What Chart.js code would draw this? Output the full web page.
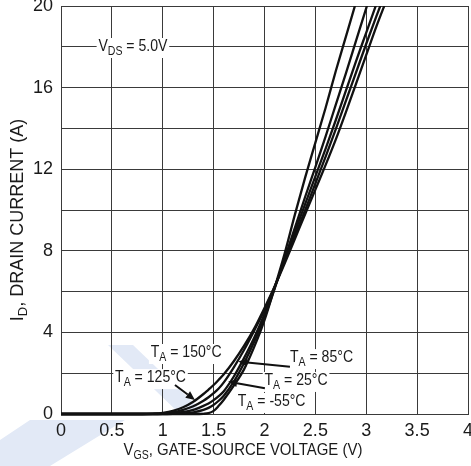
<!DOCTYPE html>
<html>
<head>
<meta charset="utf-8">
<script src="https://cdn.jsdelivr.net/npm/chart.js@4/dist/chart.umd.min.js"></script>
<style>
  body { margin: 0; background: #fff; }
  #wrap { width: 471px; height: 466px; position: relative; }
</style>
</head>
<body>
<div id="wrap"><canvas id="chart"></canvas></div>
<script>
// Transfer characteristics: I_D vs V_GS at V_DS = 5.0V, five ambient temps

const vgs = [0, 0.8, 0.9, 1.0, 1.1, 1.2, 1.3, 1.4, 1.45, 1.5, 1.55, 1.6, 1.7, 1.8, 1.9, 2.0,
             2.1, 2.2, 2.3, 2.4, 2.5, 2.6, 2.7, 2.8, 2.9, 3.0, 3.1, 3.2, 3.3];

const id150 = [0, 0, 0.02, 0.06, 0.15, 0.33, 0.6, 0.98, 1.2, 1.42, 1.68, 1.95, 2.6, 3.35, 4.2, 5.2,
               6.25, 7.4, 8.6, 9.8, 11.0, 12.2, 13.45, 14.8, 16.2, 17.6, 19.0, 20.3, 21.6];
const id125 = [0, 0, 0.01, 0.03, 0.08, 0.2, 0.38, 0.65, 0.82, 1.02, 1.25, 1.55, 2.3, 3.15, 4.1, 5.1,
               6.25, 7.5, 8.75, 10.0, 11.3, 12.6, 13.95, 15.35, 16.75, 18.15, 19.5, 20.8, 22.0];
const id85  = [0, 0, 0, 0.01, 0.04, 0.1, 0.2, 0.4, 0.52, 0.68, 0.88, 1.12, 1.85, 2.75, 3.75, 4.9,
               6.2, 7.6, 8.95, 10.3, 11.65, 13.0, 14.4, 15.85, 17.3, 18.7, 20.1, 21.5, 22.9];
const id25  = [0, 0, 0, 0, 0.01, 0.03, 0.08, 0.2, 0.3, 0.45, 0.65, 0.9, 1.6, 2.5, 3.55, 4.75,
               6.15, 7.65, 9.15, 10.65, 12.1, 13.6, 15.15, 16.7, 18.3, 19.9, 21.5, 23.0, 24.5];
const idm55 = [0, 0, 0, 0, 0, 0, 0, 0.01, 0.04, 0.15, 0.4, 0.7, 1.4, 2.2, 3.3, 4.6,
               6.2, 7.9, 9.8, 11.6, 13.3, 15.0, 16.8, 18.5, 20.2, 22.0, 23.8, 25.5, 27.0];

const seriesNames = ['150°C', '125°C', '85°C', '25°C', '-55°C'];
const seriesValues = [id150, id125, id85, id25, idm55];

const xTicks = [0, 0.5, 1, 1.5, 2, 2.5, 3, 3.5, 4];
const yTicks = [0, 4, 8, 12, 16, 20];

// annotation texts, anchored in data units
const notes = [
  { parts: [['V'], ['DS', 1], [' = 5.0V']], x: 0.707, y: 18.0 },
  { parts: [['T'], ['A', 1], [' = 150°C']], x: 1.23, y: 3.0 },
  { parts: [['T'], ['A', 1], [' = 125°C']], x: 0.88, y: 1.77 },
  { parts: [['T'], ['A', 1], [' = 85°C']], x: 2.56, y: 2.75 },
  { parts: [['T'], ['A', 1], [' = 25°C']], x: 2.31, y: 1.63 },
  { parts: [['T'], ['A', 1], [' = -55°C']], x: 2.07, y: 0.6 }
];
const arrows = [
  { from: [1.12, 1.42], to: [1.316, 0.69] },
  { from: [2.25, 2.32], to: [1.742, 2.57] },
  { from: [2.004, 1.26], to: [1.643, 1.59] }
];

const FONT = "'Liberation Sans', Arial, Helvetica, sans-serif";
const GRID = '#3a3a3a';
const SQUEEZE = 0.88;

function richText(ctx, parts, cx, cy, size, sx, bg) {
  ctx.save();
  ctx.translate(cx, cy);
  ctx.scale(sx, 1);
  ctx.textBaseline = 'middle';
  ctx.textAlign = 'left';
  let total = 0;
  const widths = parts.map(p => {
    ctx.font = (p[1] ? Math.round(size * 0.72) : size) + 'px ' + FONT;
    const w = ctx.measureText(p[0]).width;
    total += w;
    return w;
  });
  if (bg) {
    ctx.fillStyle = '#fff';
    ctx.fillRect(-total / 2 - 2, -size * 0.55, total + 4, size * 1.25);
  }
  ctx.fillStyle = '#1a1a1a';
  let x = -total / 2;
  parts.forEach((p, i) => {
    ctx.font = (p[1] ? Math.round(size * 0.72) : size) + 'px ' + FONT;
    ctx.fillText(p[0], x, p[1] ? size * 0.32 : 0);
    x += widths[i];
  });
  ctx.restore();
}

const watermark = {
  id: 'watermark',
  beforeDraw(chart) {
    const ctx = chart.ctx;
    ctx.save();
    ctx.fillStyle = '#e2e9f6';
    ctx.beginPath();
    ctx.moveTo(108, 345); ctx.lineTo(133, 345); ctx.lineTo(205, 414); ctx.lineTo(180, 414);
    ctx.closePath();
    ctx.fill();
    ctx.beginPath();
    ctx.moveTo(30, 420); ctx.lineTo(125, 420); ctx.lineTo(50, 466); ctx.lineTo(0, 466); ctx.lineTo(0, 440);
    ctx.closePath();
    ctx.fill();
    ctx.restore();
  }
};

const annotate = {
  id: 'annotate',
  beforeDatasetsDraw(chart) {
    const { ctx, scales: { x, y } } = chart;
    notes.forEach(n => {
      richText(ctx, n.parts, x.getPixelForValue(n.x), y.getPixelForValue(n.y), 16, SQUEEZE, true);
    });
    ctx.save();
    ctx.strokeStyle = '#111';
    ctx.fillStyle = '#111';
    ctx.lineWidth = 2;
    arrows.forEach(a => {
      const x0 = x.getPixelForValue(a.from[0]), y0 = y.getPixelForValue(a.from[1]);
      const x1 = x.getPixelForValue(a.to[0]), y1 = y.getPixelForValue(a.to[1]);
      const ang = Math.atan2(y1 - y0, x1 - x0);
      const len = 9, half = 4;
      const bx = x1 - len * Math.cos(ang), by = y1 - len * Math.sin(ang);
      ctx.beginPath();
      ctx.moveTo(x0, y0);
      ctx.lineTo(bx, by);
      ctx.stroke();
      ctx.beginPath();
      ctx.moveTo(x1, y1);
      ctx.lineTo(bx + half * Math.sin(ang), by - half * Math.cos(ang));
      ctx.lineTo(bx - half * Math.sin(ang), by + half * Math.cos(ang));
      ctx.closePath();
      ctx.fill();
    });
    ctx.restore();
  },
  afterDraw(chart) {
    const ctx = chart.ctx;
    // x axis title
    richText(ctx, [['V'], ['GS', 1], [', GATE-SOURCE VOLTAGE (V)']], 243, 450, 17, SQUEEZE, false);
    // y axis title, rotated
    ctx.save();
    ctx.translate(18, 220);
    ctx.rotate(-Math.PI / 2);
    richText(ctx, [['I'], ['D', 1], [', DRAIN CURRENT (A)']], 0, 0, 18, 1, false);
    ctx.restore();
  }
};

const ctx = document.getElementById('chart').getContext('2d');
new Chart(ctx, {
  type: 'line',
  data: {
    datasets: seriesValues.map((vals, k) => ({
      label: seriesNames[k],
      data: vgs.map((v, i) => ({ x: v, y: vals[i] })),
      borderColor: '#111',
      borderWidth: 2.3,
      pointRadius: 0,
      fill: false,
      cubicInterpolationMode: 'monotone',
      clip: { left: 3, right: 3, top: 0, bottom: 3 }
    }))
  },
  options: {
    responsive: true,
    maintainAspectRatio: false,
    animation: false,
    layout: { padding: { top: 6, right: 3, left: 0, bottom: 0 } },
    plugins: { legend: { display: false }, tooltip: { enabled: false } },
    scales: {
      x: {
        type: 'linear',
        min: xTicks[0],
        max: xTicks[xTicks.length - 1],
        afterBuildTicks: s => { s.ticks = xTicks.map(v => ({ value: v })); },
        ticks: {
          autoSkip: false,
          maxRotation: 0,
          padding: 6,
          color: '#1a1a1a',
          font: { family: "'Liberation Sans Narrow', " + FONT, size: 18 },
          callback: v => String(v)
        },
        grid: { color: GRID, lineWidth: 1, drawTicks: false },
        border: { color: GRID, width: 1 },
        afterFit: s => { s.height = 52; s.paddingLeft = 0; s.paddingRight = 0; }
      },
      y: {
        min: 0,
        max: 20,
        ticks: {
          stepSize: 2,
          padding: 8,
          color: '#1a1a1a',
          font: { family: "'Liberation Sans Narrow', " + FONT, size: 18 },
          callback: v => (yTicks.includes(v) ? String(v) : '')
        },
        grid: { color: GRID, lineWidth: 1, drawTicks: false },
        border: { color: GRID, width: 1 },
        afterFit: s => { s.width = 61; s.paddingTop = 0; s.paddingBottom = 0; }
      }
    }
  },
  plugins: [watermark, annotate]
});
</script>
</body>
</html>
